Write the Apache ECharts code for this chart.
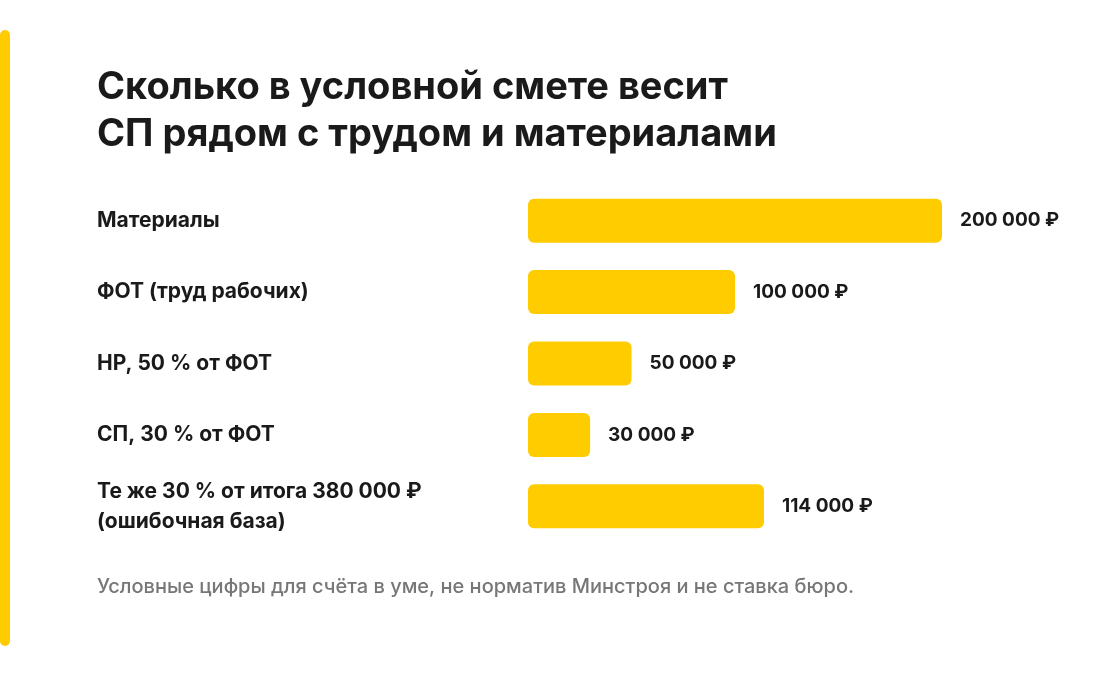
<!DOCTYPE html>
<html><head><meta charset="utf-8">
<script src="https://cdn.jsdelivr.net/npm/echarts@6/dist/echarts.min.js"></script>
<style>html,body{margin:0;padding:0;background:#fff}#c{width:1100px;height:690px}</style>
</head><body><div id="c"></div>
<script>
const categories = ["Материалы","ФОТ (труд рабочих)","НР, 50 % от ФОТ","СП, 30 % от ФОТ","Те же 30 % от итога 380 000 ₽\n(ошибочная база)"];
const values = [200000,100000,50000,30000,114000];
const valueLabels = ["200 000 ₽","100 000 ₽","50 000 ₽","30 000 ₽","114 000 ₽"];
const chart = echarts.init(document.getElementById('c'));
const F = 'Inter, "Noto Sans", sans-serif';
chart.setOption({
  animation:false,
  graphic:[
    {type:'rect',shape:{x:0,y:30,width:10,height:616,r:5},style:{fill:'#FFCC00'}},
    {type:'text',left:97,top:64,style:{text:'Сколько в условной смете весит\nСП рядом с трудом и материалами',font:'bold 38px '+F,fill:'#1a1a1a',lineHeight:47}},
    {type:'text',left:97,top:577,style:{text:'Условные цифры для счёта в уме, не норматив Минстроя и не ставка бюро.',font:'500 20px '+F,fill:'#777'}}
  ],
  grid:{left:528,top:185,width:414,height:357},
  xAxis:{type:'value',min:0,max:200000,show:false},
  yAxis:{type:'category',inverse:true,data:categories,
    axisLine:{show:false},axisTick:{show:false},
    axisLabel:{align:'left',margin:431,fontFamily:F,fontWeight:'bold',fontSize:21,color:'#1a1a1a',lineHeight:30}},
  series:[{type:'bar',data:values,barWidth:44,
    itemStyle:{color:'#FFCC00',borderRadius:6},
    label:{show:true,position:'right',distance:18,fontFamily:F,fontWeight:'bold',fontSize:19,color:'#1a1a1a',
      formatter:p=>valueLabels[p.dataIndex]}}]
});
</script></body></html>
